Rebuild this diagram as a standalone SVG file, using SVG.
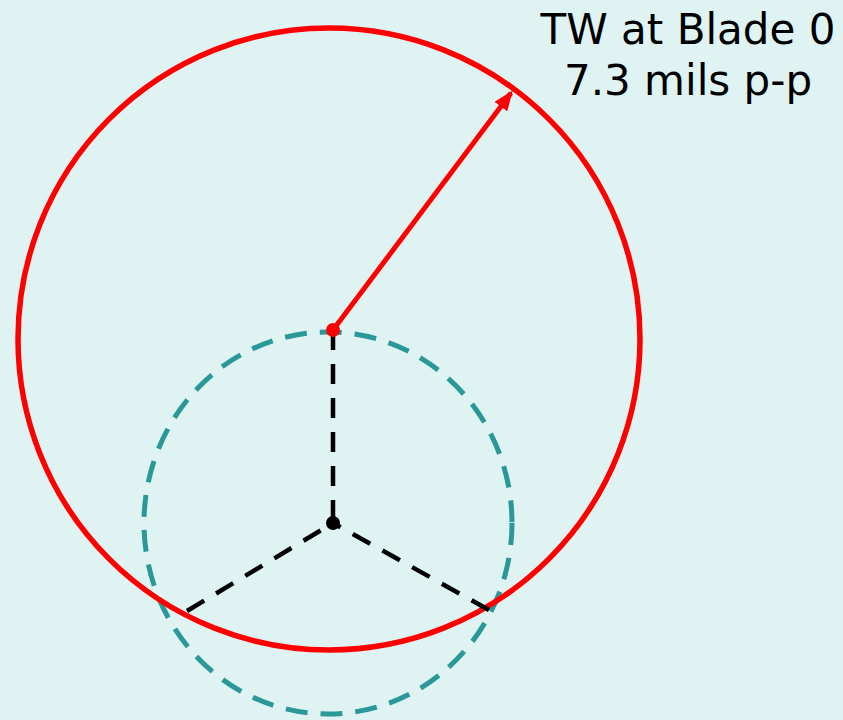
<svg xmlns="http://www.w3.org/2000/svg" width="843" height="720" viewBox="0 0 843 720">
<defs>
<style>
.teal{fill:none;stroke:#2a9898;stroke-width:5;stroke-dasharray:22 13}
.red{fill:none;stroke:#ff0000;stroke-width:5.5}
.blk{fill:none;stroke:#000;stroke-width:4.5;stroke-dasharray:20 14}
.lbl{font-family:"DejaVu Sans",sans-serif;font-size:42px;fill:#000;text-anchor:middle}
</style>
<marker id="ah" markerWidth="20" markerHeight="16" refX="17" refY="8" orient="auto" markerUnits="userSpaceOnUse" viewBox="0 0 20 16">
<path d="M0,0 L20,8 L0,16 Z" fill="#ff0000"/>
</marker>
</defs>
<rect width="843" height="720" fill="#dff3f3"/>
<g id="orbit">
<ellipse class="teal" cx="328" cy="523" rx="184" ry="191"/>
</g>
<g id="tw-circle">
<circle class="red" cx="329" cy="339" r="311"/>
</g>
<g id="connectors">
<line class="blk" x1="333" y1="330" x2="333" y2="523"/>
<line class="blk" x1="187" y1="611" x2="333" y2="523"/>
<line class="blk" x1="489" y1="610" x2="333" y2="523"/>
<line x1="333" y1="330" x2="511" y2="93" stroke="#ff0000" stroke-width="5" marker-end="url(#ah)"/>
</g>
<g id="red-center">
<circle cx="333" cy="330" r="7" fill="#ff0000"/>
</g>
<g id="black-center">
<circle cx="333" cy="523" r="7" fill="#000"/>
</g>
<g id="label">
<text class="lbl" x="688" y="44">TW at Blade 0</text>
<text class="lbl" x="688" y="95">7.3 mils p-p</text>
</g>
</svg>
